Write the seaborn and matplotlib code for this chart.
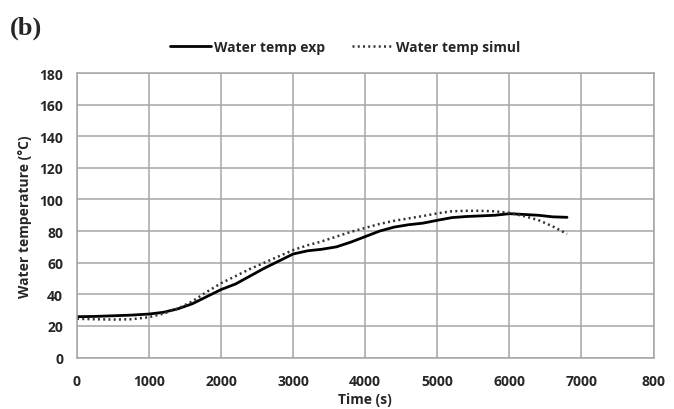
import numpy as np
import pandas as pd
import seaborn as sns
import matplotlib.pyplot as plt

# data
time_exp = [0, 250, 500, 750, 1000, 1200, 1400, 1600, 1800, 2000, 2200, 2400, 2600, 2800,
            3000, 3200, 3400, 3600, 3800, 4000, 4200, 4400, 4600, 4800, 5000, 5200, 5400,
            5600, 5800, 6000, 6200, 6400, 6600, 6800]
temp_exp = [25.8, 26.0, 26.4, 26.8, 27.5, 28.6, 30.8, 34.0, 38.5, 43.0, 46.5, 51.5, 56.5, 61.0,
            65.5, 67.5, 68.5, 70.0, 73.0, 76.5, 80.0, 82.5, 84.0, 85.0, 86.8, 88.5, 89.2,
            89.6, 90.0, 91.0, 90.5, 90.0, 89.0, 88.7]
time_sim = time_exp
temp_sim = [24.5, 24.2, 24.0, 24.2, 25.5, 27.8, 31.0, 35.5, 41.5, 47.0, 51.5, 56.0, 60.0, 64.0,
            68.0, 71.0, 73.5, 76.5, 79.5, 82.0, 84.5, 86.5, 88.0, 89.5, 91.2, 92.5, 92.8,
            92.8, 92.5, 91.5, 89.5, 87.0, 83.0, 78.2]

x_ticks = [0, 1000, 2000, 3000, 4000, 5000, 6000, 7000, 8000]
x_labels = ['0', '1000', '2000', '3000', '4000', '5000', '6000', '7000', '800']
y_ticks = [0, 20, 40, 60, 80, 100, 120, 140, 160, 180]

df_exp = pd.DataFrame({'time': time_exp, 'temp': temp_exp})
df_sim = pd.DataFrame({'time': time_sim, 'temp': temp_sim})

sns.set_style('white')
plt.rcParams['font.family'] = ['Open Sans', 'DejaVu Sans']

fig = plt.figure(figsize=(6.74, 4.1), dpi=100)
ax = fig.add_axes([0.1142, 0.1256, 0.8554, 0.6939])

sns.lineplot(x='time', y='temp', data=df_exp, ax=ax, color='black', linewidth=2.0,
             label='Water temp exp')
sns.lineplot(x='time', y='temp', data=df_sim, ax=ax, color='#333333', linewidth=1.8,
             linestyle=(0, (0.8, 1.3)), label='Water temp simul')

ax.set_xlim(0, 8000)
ax.set_ylim(0, 180)
ax.set_xticks(x_ticks)
ax.set_xticklabels(x_labels)
ax.set_yticks(y_ticks)
ax.grid(True, color='#a6a6a6', linewidth=1.1)
for s in ax.spines.values():
    s.set_color('#a6a6a6')
    s.set_linewidth(1.1)
ax.tick_params(axis='both', length=0, labelsize=10)
ax.tick_params(axis='x', pad=12)
ax.tick_params(axis='y', pad=10)
for lab in ax.get_xticklabels() + ax.get_yticklabels():
    lab.set_fontweight('bold')

ax.set_xlabel('Time (s)', fontsize=10, fontweight='bold', labelpad=3)
ax.set_ylabel('Water temperature (°C)', fontsize=10, fontweight='bold', labelpad=5)

ax.legend(loc='center', bbox_to_anchor=(0.465, 1.092), ncol=2, frameon=False,
          prop={'size': 10, 'weight': 'bold'}, handlelength=3.0, columnspacing=1.9,
          handletextpad=0.2)

fig.text(0.015, 0.915, '(b)', fontsize=19, fontweight='bold', family='Liberation Serif')

fig.savefig('out.png', dpi=100)
